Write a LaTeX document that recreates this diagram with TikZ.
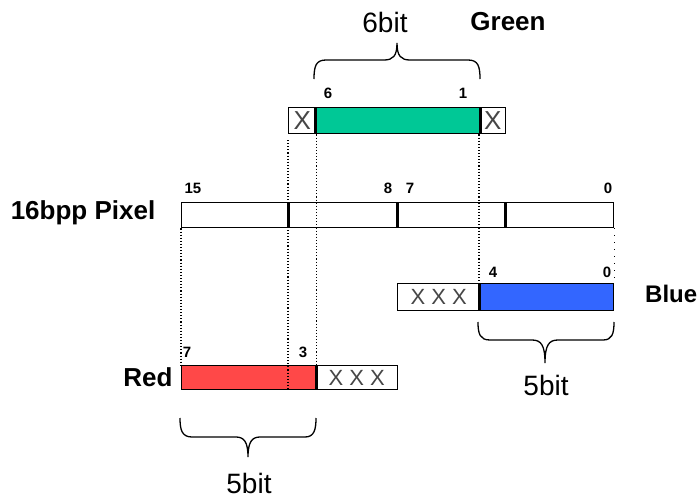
\documentclass[tikz,border=0pt]{standalone}
\usepackage{fontspec}
\setmainfont{Liberation Sans}
\definecolor{gfill}{RGB}{0,200,150}
\definecolor{bfill}{RGB}{51,102,255}
\definecolor{rfill}{RGB}{255,72,72}
\definecolor{xgray}{RGB}{70,70,70}
\tikzset{
  cell/.style={draw=black, line width=1.4pt, inner sep=0pt, anchor=north west},
  thickdiv/.style={line width=3pt},
  guide/.style={dotted, line width=1.1pt},
  bracket/.style={line width=1.3pt},
  bigbold/.style={font=\fontsize{26}{30}\selectfont\bfseries, inner sep=0pt},
  bitlab/.style={font=\fontsize{28}{32}\selectfont, inner sep=0pt},
  numlab/.style={font=\fontsize{15}{17}\selectfont\bfseries, inner sep=0pt},
  xlab/.style={font=\fontsize{22}{24}\selectfont, text=xgray, inner sep=0pt},
}
\begin{document}
\begin{tikzpicture}[x=1pt,y=-1pt]
\useasboundingbox (0,0) rectangle (699,498);
% Green register
\node[cell, minimum width=27, minimum height=26] (gx1) at (288,107) {};
\node[cell, fill=gfill, minimum width=164, minimum height=26] (g) at (315,107) {};
\node[cell, minimum width=26, minimum height=26] (gx2) at (479,107) {};
\node[font=\fontsize{26}{28}\selectfont, text=xgray, inner sep=0pt] at (gx1.center) {X};
\node[font=\fontsize{26}{28}\selectfont, text=xgray, inner sep=0pt] at (gx2.center) {X};
\draw[thickdiv] (g.north west) -- (g.south west);
\draw[thickdiv] (g.north east) -- (g.south east);
% 16bpp pixel
\node[cell, minimum width=432, minimum height=25] (pix) at (181,202) {};
\coordinate (d1t) at (288,202); \coordinate (d1b) at (288,227);
\coordinate (d2t) at (397,202); \coordinate (d2b) at (397,227);
\coordinate (d3t) at (505,202); \coordinate (d3b) at (505,227);
\draw[thickdiv] (d1t) -- (d1b);
\draw[thickdiv] (d2t) -- (d2b);
\draw[thickdiv] (d3t) -- (d3b);
% Blue register
\node[cell, minimum width=82, minimum height=27] (bx) at (397,283) {};
\node[cell, fill=bfill, minimum width=134, minimum height=27] (b) at (479,283) {};
\node[xlab] at (bx.center) {X X X};
\draw[thickdiv] (b.north west) -- (b.south west);
% Red register
\node[cell, fill=rfill, minimum width=134, minimum height=24] (r) at (181,365) {};
\node[cell, minimum width=82, minimum height=24] (rx) at (315,365) {};
\node[xlab] at (rx.center) {X X X};
\draw[thickdiv] (r.north east) -- (r.south east);
% dotted guides
\draw[guide] (gx1.south east) -- (r.north east);
\draw[guide] (gx2.south west) -- (b.north west);
\draw[guide] (pix.south west) -- (r.north west);
\coordinate (gd) at (288,140);
\coordinate (rd) at (288,389);
\draw[guide] (gd) -- (rd);
\draw[dotted, line width=1pt, dash pattern=on 1pt off 6pt] (pix.south east) -- (b.north east);
% brackets
\draw[bracket] (314,79) .. controls (314,66) and (316,60) .. (326,60) -- (384,60)
  .. controls (393,60) and (397,56) .. (397,43)
  .. controls (397,56) and (401,60) .. (410,60) -- (468,60)
  .. controls (478,60) and (480,66) .. (480,79);
\draw[bracket] (478,322) .. controls (478,334) and (480,340) .. (490,340) -- (532,340)
  .. controls (541,340) and (545,345) .. (545,363)
  .. controls (545,345) and (549,340) .. (558,340) -- (603,340)
  .. controls (612,340) and (614,334) .. (614,322);
\draw[bracket] (180,418) .. controls (180,430) and (182,437) .. (192,437) -- (236,437)
  .. controls (244,437) and (248,442) .. (248,457)
  .. controls (248,442) and (252,437) .. (260,437) -- (305,437)
  .. controls (314,437) and (316,430) .. (316,418);
% labels
\node[bitlab] (l6bit) at (385,22) {6bit};
\node[bigbold] (lgreen) at (508,22) {Green};
\node[bigbold] (lpix) at (83,213) {16bpp Pixel};
\node[bigbold, font=\fontsize{24}{28}\selectfont\bfseries, anchor=west] (lblue) at (645,294) {Blue};
\node[bigbold] (lred) at (148,377) {Red};
\node[bitlab] (l5b) at (546,385) {5bit};
\node[bitlab] (l5r) at (249,483) {5bit};
\node[numlab] at (328,93) {6};
\node[numlab] at (463,93) {1};
\node[numlab] at (193,188) {15};
\node[numlab] at (388,188) {8};
\node[numlab] at (410,188) {7};
\node[numlab] at (608,188) {0};
\node[numlab] at (493,272) {4};
\node[numlab] at (607,272) {0};
\node[numlab] at (187,352) {7};
\node[numlab] at (303,352) {3};
\end{tikzpicture}
\end{document}
